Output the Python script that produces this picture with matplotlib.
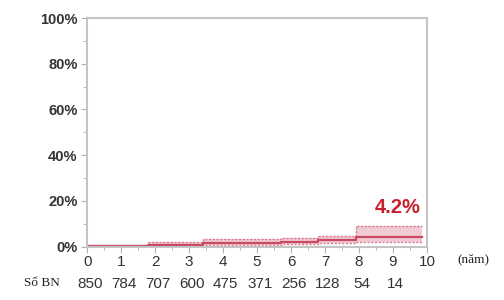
import numpy as np
import matplotlib
matplotlib.use('Agg')
import matplotlib.pyplot as plt
from matplotlib.ticker import MultipleLocator, FuncFormatter

# cumulative incidence (%) step curve with confidence band
times = [0, 1.8, 3.4, 5.7, 6.8, 7.9, 9.85]
est = [0.2, 0.8, 1.5, 2.1, 2.8, 4.0]
upper = [0.6, 1.8, 3.2, 3.6, 4.7, 9.1]
lower = [0.0, 0.3, 0.8, 1.0, 1.5, 2.0]

years = [0, 1, 2, 3, 4, 5, 6, 7, 8, 9]
at_risk = ['850', '784', '707', '600', '475', '371', '256', '128', '54', '14']
final_label = '4.2%'

plt.rcParams['font.family'] = ['Liberation Sans', 'DejaVu Sans']

fig = plt.figure(figsize=(5.04, 3.0), dpi=100)
ax = fig.add_axes([0.173, 0.178, 0.674, 0.762])

# step arrays (last value repeated for the end point)
e = est + [est[-1]]
u = upper + [upper[-1]]
l = lower + [lower[-1]]

ax.fill_between(times, l, u, step='post', color='#e9a9b8', alpha=0.6, lw=0)
ax.step(times, u, where='post', color='#d77890', lw=1.0, ls=(0, (1.5, 1.2)))
ax.step(times, l, where='post', color='#d77890', lw=1.0, ls=(0, (1.5, 1.2)))
ax.step(times, e, where='post', color='#c94862', lw=1.6)

ax.text(9.15, 13.0, final_label, color='#c9202f', fontsize=14.5, fontweight='bold',
        ha='center', va='bottom')

ax.set_xlim(0, 10)
ax.set_ylim(0, 100)
ax.xaxis.set_major_locator(MultipleLocator(1))
ax.xaxis.set_minor_locator(MultipleLocator(0.5))
ax.yaxis.set_major_locator(MultipleLocator(20))
ax.yaxis.set_minor_locator(MultipleLocator(10))
ax.yaxis.set_major_formatter(FuncFormatter(lambda v, p: '%d%%' % v))

for s in ax.spines.values():
    s.set_color('#c4c4c4')
    s.set_linewidth(1.5)

ax.tick_params(axis='both', which='both', direction='out', color='#b0b0b0')
ax.tick_params(axis='y', which='major', length=4, labelsize=10.5, labelcolor='#333333', pad=3)
ax.tick_params(axis='y', which='minor', length=3)
ax.tick_params(axis='x', which='major', length=4, labelsize=11, labelcolor='#333333', pad=2)
ax.tick_params(axis='x', which='minor', length=2.5)
for lab in ax.get_yticklabels():
    lab.set_fontweight('bold')

ax.text(10.9, -3.0, '(năm)', fontsize=9.5, family=['Liberation Serif', 'DejaVu Serif'],
        ha='left', va='top', color='#222222')

# number at risk row
ax.text(-1.85, -13.5, 'Số BN', fontsize=9.5, family=['Liberation Serif', 'DejaVu Serif'],
        ha='left', va='top', color='#222222')
for x, n in zip(years, at_risk):
    ax.text(x + 0.08, -13.5, n, fontsize=11, ha='center', va='top', color='#333333')

fig.savefig('out.png', dpi=100)
